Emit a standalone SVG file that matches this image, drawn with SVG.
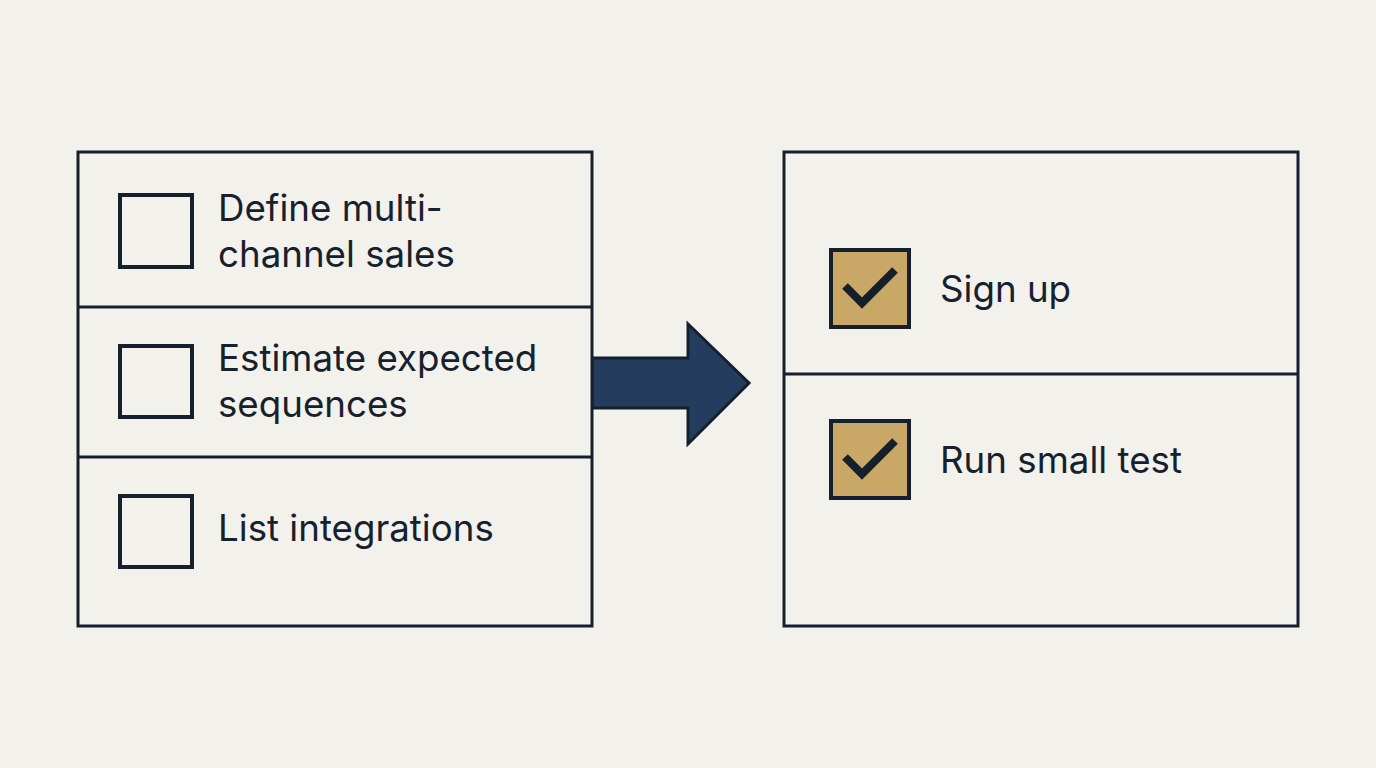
<svg xmlns="http://www.w3.org/2000/svg" width="1376" height="768" viewBox="0 0 1376 768">
<style>
.box{fill:#F2F1EC;stroke:#15202C;stroke-width:3}
.div{stroke:#15202C;stroke-width:3}
.cb{fill:none;stroke:#15202C;stroke-width:4}
.cbd{fill:#C9A766;stroke:#15202C;stroke-width:4}
.chk{fill:none;stroke:#15202C;stroke-width:8;stroke-linecap:butt;stroke-linejoin:miter}
.t{font-family:Inter,"Noto Sans",sans-serif;font-size:36.7px;fill:#17212D}
</style>
<rect width="1376" height="768" fill="#F2F1EC"/>
<g id="connectors">
<path d="M592 358 H688 V324 L749 383 L688 444 V408 H592 Z" fill="#243C5E" stroke="#15202C" stroke-width="3" stroke-linejoin="miter"/>
</g>
<g id="left-list">
<rect class="box" x="78" y="152" width="514" height="474"/>
<line class="div" x1="78" y1="307" x2="592" y2="307"/>
<line class="div" x1="78" y1="457" x2="592" y2="457"/>
</g>
<g id="item-define">
<rect class="cb" x="120" y="195" width="72" height="72"/>
<text class="t" x="218" y="221">Define multi-</text>
<text class="t" x="218" y="267">channel sales</text>
</g>
<g id="item-estimate">
<rect class="cb" x="120" y="346" width="72" height="71"/>
<text class="t" x="218" y="371">Estimate expected</text>
<text class="t" x="218" y="417">sequences</text>
</g>
<g id="item-list">
<rect class="cb" x="120" y="496" width="72" height="71"/>
<text class="t" x="218" y="541">List integrations</text>
</g>
<g id="right-list">
<rect class="box" x="784" y="152" width="514" height="474"/>
<line class="div" x1="784" y1="374" x2="1298" y2="374"/>
</g>
<g id="item-signup">
<rect class="cbd" x="831" y="250" width="78" height="77"/>
<path class="chk" d="M845 286 L862 303 L895 270"/>
<text class="t" x="940" y="302">Sign up</text>
</g>
<g id="item-run">
<rect class="cbd" x="831" y="421" width="78" height="77"/>
<path class="chk" d="M845 457 L862 474 L895 441"/>
<text class="t" x="940" y="473">Run small test</text>
</g>
</svg>
